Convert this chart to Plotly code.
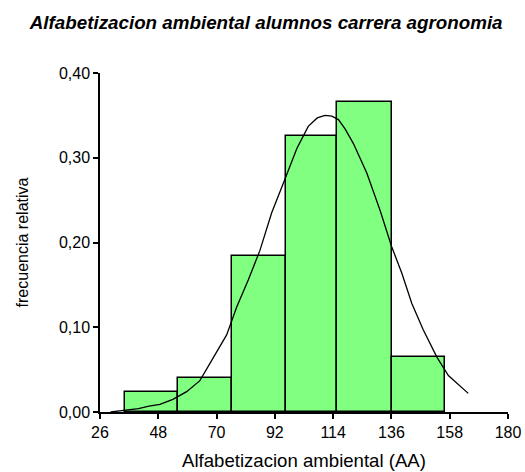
import plotly.graph_objects as go

# Histogram bin edges (Alfabetizacion ambiental) and relative frequencies
bin_edges = [35.4, 55.6, 75.9, 96.1, 115.6, 136.1, 156.2]
rel_freq = [0.024, 0.040, 0.184, 0.326, 0.366, 0.065]

# Smoothed density curve
curve_x = [30.0, 32.3, 36.0, 40.5, 44.5, 48.6, 53.5, 58.7, 63.7, 69.4, 73.8, 77.6, 82.0, 86.4,
           90.8, 95.2, 100.3, 104.6, 108.0, 110.9, 113.5, 116.0, 118.5, 121.6, 126.7, 131.7,
           136.1, 139.9, 143.7, 148.0, 153.1, 157.5, 161.3, 165.0]
curve_y = [0.000, 0.001, 0.002, 0.004, 0.007, 0.009, 0.015, 0.024, 0.037, 0.067, 0.091, 0.124,
           0.156, 0.191, 0.235, 0.270, 0.311, 0.337, 0.347, 0.350, 0.349, 0.345, 0.334, 0.317,
           0.282, 0.238, 0.195, 0.164, 0.128, 0.097, 0.065, 0.043, 0.032, 0.022]

x_ticks = [26, 48, 70, 92, 114, 136, 158, 180]
y_ticks = [0.0, 0.1, 0.2, 0.3, 0.4]

centers = [(a + b) / 2 for a, b in zip(bin_edges[:-1], bin_edges[1:])]
widths = [b - a for a, b in zip(bin_edges[:-1], bin_edges[1:])]

font = "Liberation Sans, Arial, sans-serif"

fig = go.Figure()
fig.add_trace(go.Bar(
    x=centers, y=rel_freq, width=widths,
    marker=dict(color="#80FF80", line=dict(color="black", width=1.5)),
    showlegend=False, hoverinfo="skip",
))
fig.add_trace(go.Scatter(
    x=curve_x, y=curve_y, mode="lines",
    line=dict(color="black", width=1.3),
    showlegend=False, hoverinfo="skip",
))

fig.update_layout(
    width=525, height=472,
    margin=dict(l=100, r=17, t=73, b=60),
    paper_bgcolor="white", plot_bgcolor="white",
    separators=",.",
    font=dict(family=font, size=16, color="black"),
    title=dict(
        text="<b><i>Alfabetizacion ambiental alumnos carrera agronomia</i></b>",
        x=0.507, xanchor="center", y=0.953, yanchor="middle",
        font=dict(family=font, size=18.8, color="black"),
    ),
    bargap=0,
)
fig.update_xaxes(
    range=[26, 180], tickvals=x_ticks, ticktext=[str(v) for v in x_ticks],
    automargin=False,
    showline=True, linecolor="black", linewidth=1.5,
    ticks="outside", ticklen=5, tickcolor="black", tickwidth=1.5,
    showgrid=False, zeroline=False,
    tickfont=dict(size=16),
    title=dict(text="Alfabetizacion ambiental (AA)", font=dict(size=18.6), standoff=14),
)
fig.update_yaxes(
    range=[0, 0.4], tickvals=y_ticks, tickformat=".2f",
    automargin=False,
    showline=True, linecolor="black", linewidth=1.5,
    ticks="outside", ticklen=5, tickcolor="black", tickwidth=1.5,
    showgrid=False, zeroline=False,
    tickfont=dict(size=16),
    title=dict(text="frecuencia relativa", font=dict(size=16), standoff=26),
)

fig.write_html("out.html")
